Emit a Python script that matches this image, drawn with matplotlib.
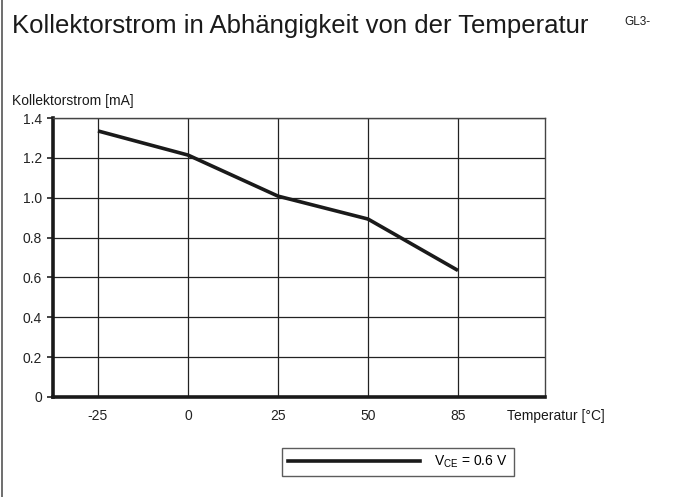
import matplotlib.pyplot as plt
from matplotlib.lines import Line2D

plt.rcParams['font.family'] = ['Liberation Sans', 'DejaVu Sans']

temp_labels = ['-25', '0', '25', '50', '85']
current_ma = [1.335, 1.214, 1.008, 0.893, 0.635]
y_ticks = [0, 0.2, 0.4, 0.6, 0.8, 1.0, 1.2, 1.4]
y_tick_labels = ['0', '0.2', '0.4', '0.6', '0.8', '1.0', '1.2', '1.4']

fig = plt.figure(figsize=(6.78, 4.97), dpi=100)
ax = fig.add_axes([53/678, 1-397/497, (545-53)/678, (397-118)/497])

xpos = list(range(len(temp_labels)))
ax.plot(xpos, current_ma, color='#1a1a1a', lw=2.6, solid_capstyle='butt', zorder=3)

ax.set_xlim(-0.5, 4.967)
ax.set_ylim(0, 1.4)
ax.set_xticks(xpos)
ax.set_xticklabels(temp_labels)
ax.set_yticks(y_ticks)
ax.set_yticklabels(y_tick_labels)
ax.grid(True, color='#222222', lw=0.9)
ax.tick_params(axis='x', length=0, pad=9, labelsize=10, colors='#222222')
ax.tick_params(axis='y', length=4, width=1.2, pad=4, labelsize=10, colors='#222222')

for s in ['top', 'right']:
    ax.spines[s].set_color('#444444')
    ax.spines[s].set_linewidth(1.0)
ax.spines['left'].set_linewidth(2.6)
ax.spines['bottom'].set_linewidth(2.6)
ax.spines['left'].set_color('#1a1a1a')
ax.spines['bottom'].set_color('#1a1a1a')

fig.text(12/678, 1-33/497, 'Kollektorstrom in Abhängigkeit von der Temperatur',
         fontsize=18.5, color='#1a1a1a', va='baseline', ha='left')
fig.text(624/678, 1-25/497, 'GL3-', fontsize=8.5, color='#1a1a1a', va='baseline', ha='left')
fig.text(12/678, 1-105/497, 'Kollektorstrom [mA]', fontsize=10, color='#1a1a1a',
         va='baseline', ha='left')
fig.text(507/678, 1-420/497, 'Temperatur [°C]', fontsize=10, color='#1a1a1a',
         va='baseline', ha='left')

# left border of the sheet
fig.add_artist(Line2D([1.5/678, 1.5/678], [0, 1], transform=fig.transFigure,
                      color='#555555', lw=1.2))

leg = fig.legend([Line2D([], [], color='#1a1a1a', lw=2.6)],
                 ['V$_{\\mathregular{CE}}$ = 0.6 V'],
                 loc='center', bbox_to_anchor=(398/678, 1-462/497),
                 fontsize=10, frameon=True, fancybox=False, handlelength=9.5,
                 borderpad=0.45, handletextpad=1.0)
leg.get_frame().set_edgecolor('#333333')
leg.get_frame().set_linewidth(1.0)

fig.savefig('out.png', dpi=100)
